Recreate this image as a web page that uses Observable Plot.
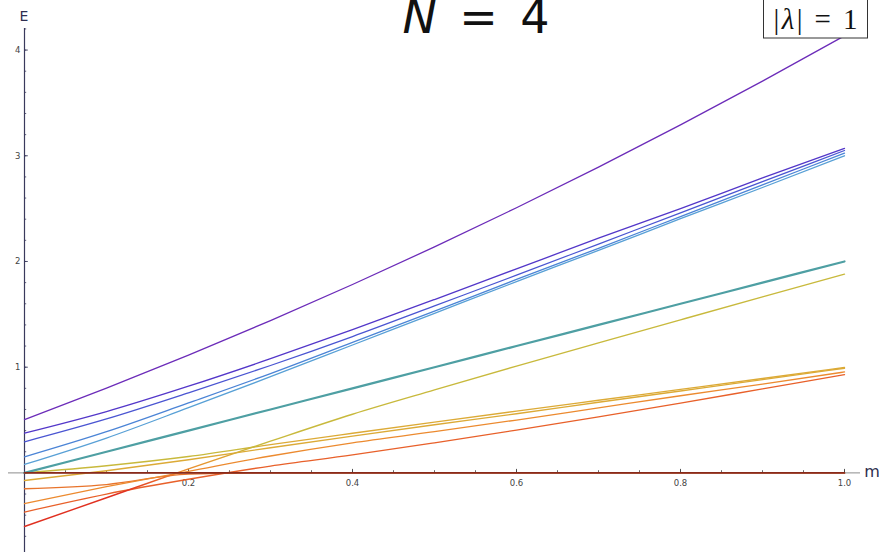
<!DOCTYPE html>
<html><head><meta charset="utf-8">
<script src="https://cdn.jsdelivr.net/npm/d3@7"></script>
<script src="https://cdn.jsdelivr.net/npm/@observablehq/plot@0.6"></script>
<style>
body{margin:0;background:#fff;}
#wrap{position:relative;width:879px;height:552px;overflow:hidden;}
</style></head><body><div id="wrap"></div>
<script>
// parameter grid
const mGrid = [0, 0.1, 0.2, 0.3, 0.4, 0.5, 0.6, 0.7, 0.8, 0.9, 1.0];
// energy levels
const level4 = [0.505, 0.802, 1.114, 1.441, 1.782, 2.138, 2.508, 2.893, 3.292, 3.706, 4.135];
const level3a = [0.376, 0.58, 0.82, 1.08, 1.355, 1.64, 1.93, 2.22, 2.50, 2.79, 3.07];
const level3b = [0.294, 0.51, 0.757, 1.016, 1.29, 1.58, 1.87, 2.165, 2.46, 2.755, 3.05];
const level3c = [0.152, 0.39, 0.662, 0.94, 1.235, 1.53, 1.83, 2.125, 2.425, 2.725, 3.025];
const level3d = [0.08, 0.33, 0.617, 0.91, 1.21, 1.51, 1.81, 2.105, 2.405, 2.70, 3.0];
const level2 = [0, 0.2, 0.4, 0.6, 0.8, 1.0, 1.2, 1.4, 1.6, 1.8, 2.0];
const level2b = [-0.507, -0.235, 0.038, 0.30, 0.555, 0.785, 1.01, 1.23, 1.448, 1.665, 1.88];
const level1a = [0, 0.068, 0.155, 0.268, 0.375, 0.48, 0.584, 0.687, 0.79, 0.893, 0.997];
const level1b = [-0.072, 0.02, 0.125, 0.238, 0.348, 0.455, 0.56, 0.668, 0.775, 0.882, 0.99];
const level1c = [-0.15, -0.11, -0.012, 0, 0, 0, 0, 0, 0, 0, 0];
const level1d = [-0.29, -0.13, 0.015, 0.16, 0.285, 0.39, 0.5, 0.615, 0.73, 0.84, 0.955];
const level1e = [-0.37, -0.2, -0.06, 0.065, 0.17, 0.285, 0.405, 0.53, 0.66, 0.795, 0.93];
const level0 = [0, 0, 0, 0, 0, 0, 0, 0, 0, 0, 0];

const seriesNames = ["level1c","level1e","level1d","level1b","level1a","level2b","level2","level3d","level3c","level3b","level3a","level4","level0"];
const seriesValues = [level1c, level1e, level1d, level1b, level1a, level2b, level2, level3d, level3c, level3b, level3a, level4, level0];
const seriesStrokes = ["#e8742c","#e8602a","#ec8a2f","#dcaa36","url(#gradA)","url(#gradR)","#4e9fa3","#58a0d6","#4b84d6","#4a55d2","#5337c9","#6c2cb9","#8a2a1a"];
const seriesWidths = [1.3,1.3,1.3,1.4,1.4,1.4,2.2,1.3,1.3,1.3,1.3,1.3,1.7];
// colour stops along m for the levels whose colour changes where they cross others
const gradRStops = [[0, "#e03020"], [0.12, "#e03020"], [0.16, "#e8602a"], [0.19, "#ec8a2f"], [0.24, "#e0a030"], [0.28, "#c8b93c"], [1, "#c8b93c"]];
const gradAStops = [[0, "#c8b93c"], [0.26, "#c8b93c"], [0.30, "#dcaa36"], [1, "#dcaa36"]];

const xTicksMajor = [0.2, 0.4, 0.6, 0.8, 1.0];
const xTickLabels = ["0.2","0.4","0.6","0.8","1.0"];
const xTicksMinor = d3.range(1, 21).map(i => i * 0.05);
const yTicksMajor = [1, 2, 3, 4];
const yTickLabels = ["1","2","3","4"];
const yTicksMinor = d3.range(-3, 22).map(i => i * 0.2);

const W = 879, H = 552;
const pxX = 1 / 820, pxY = 1 / 105.7;

function gradientDefs(index, scales) {
  const defs = d3.create("svg:defs");
  for (const [id, stops] of [["gradR", gradRStops], ["gradA", gradAStops]]) {
    const g = defs.append("linearGradient").attr("id", id).attr("gradientUnits", "userSpaceOnUse")
      .attr("x1", scales.x(0)).attr("x2", scales.x(1)).attr("y1", 0).attr("y2", 0);
    for (const [o, c] of stops) g.append("stop").attr("offset", o).attr("stop-color", c);
  }
  return defs.node();
}

const lineMarks = seriesNames.map((name, s) =>
  Plot.line(mGrid.map((m, i) => ({m, E: seriesValues[s][i]})),
    {x: "m", y: "E", stroke: seriesStrokes[s], strokeWidth: seriesWidths[s], curve: "monotone-x"}));

const chart = Plot.plot({
  width: W, height: H,
  marginLeft: 8, marginRight: 19, marginTop: 28, marginBottom: 0,
  x: {domain: [-16 / 820, 1 + 16 / 820], axis: null},
  y: {domain: [-0.753, 4.204], axis: null},
  style: {background: "white", overflow: "visible"},
  marks: [
    gradientDefs,
    Plot.ruleY([0], {stroke: "#8c8c8c", strokeWidth: 1}),
    Plot.ruleX([0], {y1: -0.8, y2: 4.204, stroke: "#3a3a5c", strokeWidth: 1.2}),
    Plot.ruleX(xTicksMinor, {x: d => d, y1: 0, y2: 2.2 * pxY, stroke: "#444", strokeWidth: 0.8}),
    Plot.ruleX(xTicksMajor, {x: d => d, y1: 0, y2: 3.5 * pxY, stroke: "#444", strokeWidth: 0.9}),
    Plot.ruleY(yTicksMinor, {y: d => d, x1: 0, x2: 2.2 * pxX, stroke: "#3a3a5c", strokeWidth: 0.8}),
    Plot.ruleY(yTicksMajor, {y: d => d, x1: 0, x2: 3.8 * pxX, stroke: "#3a3a5c", strokeWidth: 0.9}),
    Plot.text(xTicksMajor, {x: d => d, y: 0, text: (d, i) => xTickLabels[i], dy: 10, fontSize: 8.5, fill: "#444", fontFamily: "DejaVu Sans"}),
    Plot.text(yTicksMajor, {y: d => d, x: 0, text: (d, i) => yTickLabels[i], dx: -4, textAnchor: "end", fontSize: 8.5, fill: "#444", fontFamily: "DejaVu Sans"}),
    ...lineMarks
  ]
});
document.getElementById("wrap").appendChild(chart);

const svg = d3.select(chart);
svg.append("text").attr("x", 24).attr("y", 21).attr("text-anchor", "middle")
  .attr("font-family", "DejaVu Sans").attr("font-size", 14).attr("fill", "#2e2e50").text("E");
svg.append("text").attr("x", 872).attr("y", 477).attr("text-anchor", "middle")
  .attr("font-family", "DejaVu Sans").attr("font-size", 16).attr("fill", "#2e2e50").text("m");
const t = svg.append("text").attr("x", 476).attr("y", 33).attr("text-anchor", "middle")
  .attr("font-family", "DejaVu Sans").attr("font-size", 46).attr("fill", "#111")
  .attr("textLength", 147).attr("lengthAdjust", "spacing");
t.append("tspan").attr("font-style", "italic").text("N");
t.append("tspan").text(" = 4");
svg.append("rect").attr("x", 763.5).attr("y", -2).attr("width", 104).attr("height", 40)
  .attr("fill", "white").attr("stroke", "#333").attr("stroke-width", 1);
const lg = svg.append("text").attr("x", 815.5).attr("y", 29).attr("text-anchor", "middle")
  .attr("font-family", "Liberation Serif").attr("font-size", 29).attr("fill", "#111")
  .attr("textLength", 84).attr("lengthAdjust", "spacing");
lg.append("tspan").text("|");
lg.append("tspan").attr("font-style", "italic").text("λ");
lg.append("tspan").text("| = 1");
</script></body></html>
